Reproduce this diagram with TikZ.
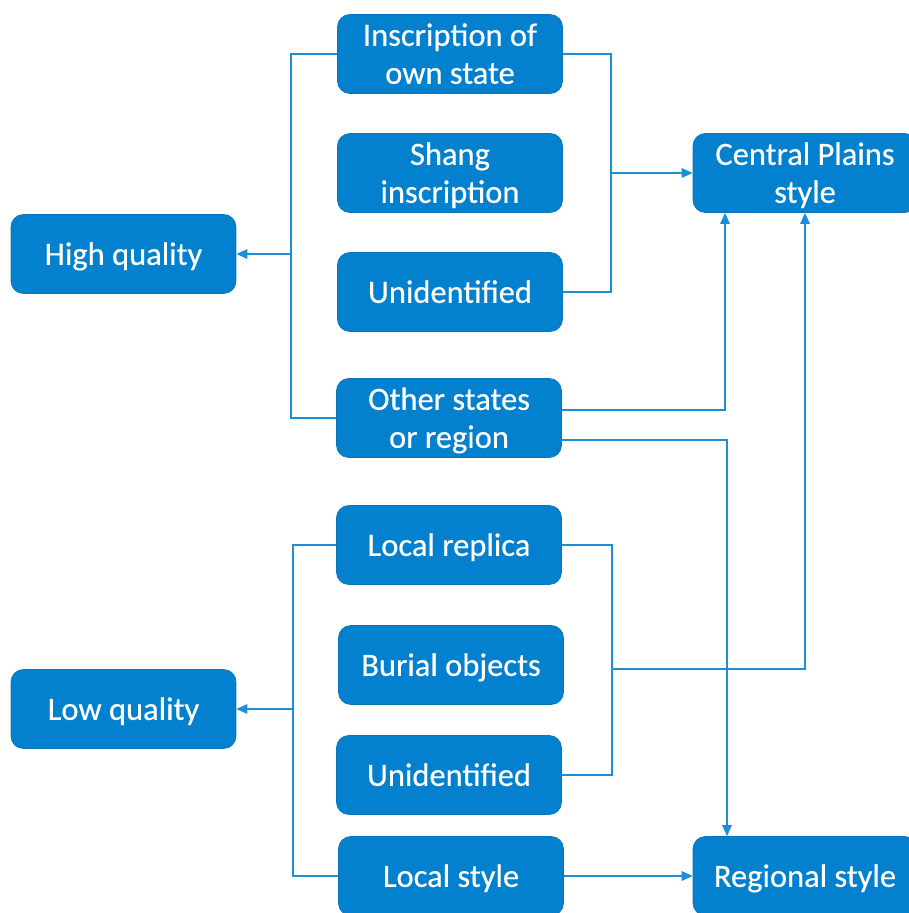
\documentclass[tikz,border=0pt]{standalone}
\usepackage{fontspec}
\setmainfont{Carlito}[FakeBold=0.4]
\usepackage{xcolor}
\usepackage{tikz}
\usetikzlibrary{arrows.meta,positioning,calc}
\definecolor{boxblue}{HTML}{0481CE}
\definecolor{boxedge}{HTML}{0A74B8}
\definecolor{lineblue}{HTML}{1C8FD8}

\begin{document}
\begin{tikzpicture}[
  x=0.02cm, y=-0.02cm,
  catb/.style={
    rectangle, draw=boxedge, thin,
    fill=boxblue, rounded corners=7pt,
    minimum width=4.5cm, minimum height=1.58cm,
    align=center, font=\fontsize{18.5}{21.6}\selectfont, text=white,
    inner sep=2pt, text depth=0.5pt
  },
  styb/.style={catb, minimum width=4.48cm},
  link/.style={lineblue, line width=0.9pt},
  arr/.style={link, -{Triangle[length=2.2mm, width=1.9mm]}}
]
\clip (0,0) rectangle (909,913);

%=== QUALITY BOXES ===
\node[catb] (high) at (123.5,254) {High quality};
\node[catb] (low)  at (123.5,709) {Low quality};

%=== SOURCE BOXES ===
\node[catb] (insc)    at (450,54)  {Inscription of\\own state};
\node[catb] (shang)   at (450,173) {Shang\\inscription};
\node[catb] (unid1)   at (450,292) {Unidentified};
\node[catb] (other)   at (449,418) {Other states\\or region};
\node[catb] (replica) at (449,545) {Local replica};
\node[catb] (burial)  at (451,665) {Burial objects};
\node[catb] (unid2)   at (449,775) {Unidentified};
\node[catb] (localst) at (451,876) {Local style};

%=== STYLE BOXES ===
\node[styb] (central)  at (805,173) {Central Plains\\style};
\node[styb] (regional) at (805,876) {Regional style};

%=== BRACKET JUNCTIONS ===
\coordinate (lbA) at (291,254);
\coordinate (rbA) at (611,173);
\coordinate (lbB) at (293,709);
\coordinate (rbB) at (612,669);

%=== HIGH QUALITY GROUP ===
\draw[link] (insc.west) -| (lbA) |- (other.west);
\draw[arr] (lbA) -- (high.east);
\draw[link] (insc.east) -| (rbA) |- (unid1.east);
\draw[arr] (rbA) -- (central.west);

%=== OTHER STATES SPLIT ===
\draw[arr] ([yshift=0.16cm]other.east) -| ([xshift=-1.6cm]central.south);
\draw[arr] ([yshift=-0.44cm]other.east) -| ([xshift=-1.56cm]regional.north);

%=== LOW QUALITY GROUP ===
\draw[link] (replica.west) -| (lbB) |- (localst.west);
\draw[arr] (lbB) -- (low.east);
\draw[link] (replica.east) -| (rbB) |- (unid2.east);
\draw[arr] (rbB) -| (central.south);
\draw[arr] (localst.east) -- (regional.west);

\end{tikzpicture}
\end{document}
